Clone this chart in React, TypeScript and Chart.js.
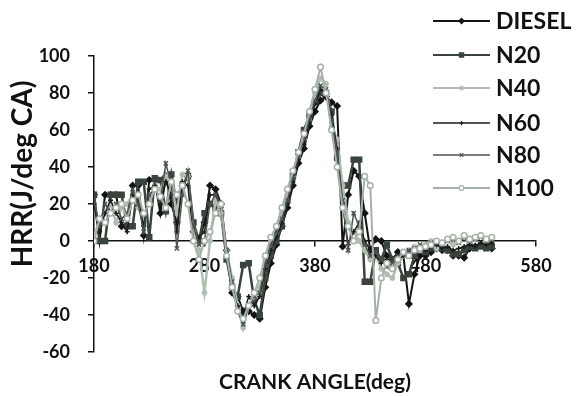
import React, { useEffect, useRef } from 'react';
import { Chart, registerables } from 'chart.js';
import { drawPoint } from 'chart.js/helpers';

Chart.register(...registerables);

// Crank angle (deg) sample positions shared by every series
const crankAngle = [
  180, 185, 190, 195, 200, 205, 210, 215, 220, 225,
  230, 235, 240, 245, 250, 255, 260, 265, 270, 275,
  280, 285, 290, 295, 300, 305, 310, 315, 320, 325,
  330, 335, 340, 345, 350, 355, 360, 365, 370, 375,
  380, 385, 390, 395, 400, 405, 410, 415, 420, 425,
  430, 435, 440, 445, 450, 455, 460, 465, 470, 475,
  480, 485, 490, 495, 500, 505, 510, 515, 520, 525,
  530, 535, 540,
];

// Heat release rate (J/deg CA) per fuel blend
const diesel = [
  25, 0, 25, 25, 25, 8, 8, 30, 30, 3,
  33, 33, 15, 35, 20, 10, 30, 35, 5, 0,
  10, 30, 28, 20, -5, -28, -30, -38, -38, -40,
  -42, -25, -12, -2, 8, 18, 30, 42, 50, 62,
  70, 76, 78, 75, 73, -3, 25, 38, 35, 15,
  -5, 1, 0, -8, -10, -6, -8, -34, -18, -8,
  -8, -6, -4, -5, -5, -8, -8, -9, -4, -3,
  -2, -3, -4,
];
const n20 = [
  25, 0, 0, 25, 25, 25, 8, 8, 32, 32,
  2, 34, 33, 16, 36, 20, 30, 35, 10, 0,
  15, 20, 18, 15, -10, -25, -30, -13, -12, -32,
  -40, -20, -8, 0, 8, 22, 35, 48, 60, 68,
  75, 80, 80, 70, 45, 30, 30, 44, 44, -22,
  -22, -5, -10, -2, -10, -12, -20, -18, -8, -5,
  -6, -4, -3, -4, -5, -7, -7, -5, -3, -4,
  -3, -4, -3,
];
const n40 = [
  2, 12, 15, 20, 10, 18, 20, 25, 18, 12,
  22, 30, 28, 35, 30, 15, 36, 35, 5, -5,
  -28, 0, 22, 15, -5, -20, -35, -47, -35, -30,
  -25, -10, 0, 5, 15, 25, 35, 45, 55, 65,
  80, 88, 85, 62, 55, 30, 10, 5, 0, -5,
  -10, -8, -15, -18, -20, -12, -8, -5, -3, -5,
  -2, 0, -4, -2, 1, -2, 0, 2, -1, 1,
  3, 0, 2,
];
const n60 = [
  20, 5, 15, 22, 15, 10, 5, 25, 22, 8,
  28, 30, 20, 32, 25, 5, 32, 30, 0, 2,
  5, 25, 25, 18, -8, -28, -35, -40, -30, -35,
  -30, -15, -5, 2, 10, 20, 32, 44, 52, 64,
  74, 82, 80, 68, 50, 20, -2, 5, 10, 0,
  -5, -8, -12, -10, -15, -10, -8, -6, -5, -4,
  -5, -3, -2, -4, -3, -5, -4, -3, -2, -3,
  -1, -2, -1,
];
const n80 = [
  22, 8, 20, 15, 20, 12, 15, 28, 20, 5,
  25, 28, 22, 42, 30, -4, 25, 38, 8, -2,
  0, 20, 25, 20, -5, -22, -38, -45, -35, -30,
  -28, -12, -2, 5, 12, 22, 34, 46, 56, 66,
  76, 84, 82, 65, 48, 22, -5, 15, 8, -2,
  -8, -6, -10, -14, -12, -8, -6, -5, -4, -2,
  -3, -1, 0, -2, 0, 1, -1, 2, 0, 1,
  2, 0, 1,
];
const n100 = [
  0, 12, 10, 15, 18, 20, 12, 22, 25, 15,
  20, 28, 24, 18, 32, 25, 30, 20, 0, -10,
  0, 5, 15, 20, -8, -25, -38, -42, -35, -28,
  -20, -8, 2, 8, 18, 28, 38, 48, 58, 70,
  82, 94, 80, 60, 40, 18, 8, 0, 5, 35,
  30, -43, -20, -12, -15, -10, -6, -8, -5, -4,
  -3, -2, 0, -1, 1, 2, 0, 3, 1, 2,
  3, 1, 2,
];

const seriesNames = ['DIESEL', 'N20', 'N40', 'N60', 'N80', 'N100'];
const seriesValues = [diesel, n20, n40, n60, n80, n100];

const xTitle = 'CRANK ANGLE(deg)';
const yTitle = 'HRR(J/deg CA)';

const FONT = 'Lato';
const INK = '#111111';

type Look = {
  color: string;
  width: number;
  pointStyle: string;
  radius: number;
  fill: string;
};

const looks: Look[] = [
  { color: '#141414', width: 2, pointStyle: 'rectRot', radius: 3, fill: '#141414' },
  { color: '#3a443c', width: 2.5, pointStyle: 'rect', radius: 3.5, fill: '#3a443c' },
  { color: '#b2bdb2', width: 2.5, pointStyle: 'star', radius: 3, fill: '#b2bdb2' },
  { color: '#1c1c1c', width: 1.5, pointStyle: 'cross', radius: 2.5, fill: '#1c1c1c' },
  { color: '#4c544d', width: 1.5, pointStyle: 'crossRot', radius: 3, fill: '#4c544d' },
  { color: '#a6b1a7', width: 2, pointStyle: 'circle', radius: 2.8, fill: '#ffffff' },
];

// Series key drawn inside the plot's upper-right corner
const sideLegend = {
  id: 'sideLegend',
  afterDraw(chart: any) {
    const ctx: CanvasRenderingContext2D = chart.ctx;
    const rowY = [21, 55, 88, 123, 155, 188];
    const x0 = 433;
    const x1 = 490;
    seriesNames.forEach((name, i) => {
      const lk = looks[i];
      const y = rowY[i];
      ctx.save();
      ctx.strokeStyle = lk.color;
      ctx.lineWidth = Math.min(lk.width, 2);
      ctx.beginPath();
      ctx.moveTo(x0, y);
      ctx.lineTo(x1, y);
      ctx.stroke();
      ctx.fillStyle = lk.fill;
      ctx.strokeStyle = lk.color;
      ctx.lineWidth = 1.2;
      drawPoint(ctx, { pointStyle: lk.pointStyle as any, radius: lk.radius * 0.85, rotation: 0, borderWidth: 1.2 }, (x0 + x1) / 2, y);
      ctx.fillStyle = INK;
      ctx.font = `bold 23px ${FONT}`;
      ctx.textAlign = 'left';
      ctx.textBaseline = 'middle';
      ctx.fillText(name, 496, y + 1);
      ctx.restore();
    });
  },
};

// Axis titles placed relative to the plotting area
const axisTitles = {
  id: 'axisTitles',
  afterDraw(chart: any) {
    const ctx: CanvasRenderingContext2D = chart.ctx;
    const area = chart.chartArea;
    ctx.save();
    ctx.fillStyle = INK;
    ctx.font = `bold 21px ${FONT}`;
    ctx.textAlign = 'center';
    ctx.textBaseline = 'middle';
    ctx.fillText(xTitle, (area.left + area.right) / 2, area.bottom + 30);
    ctx.translate(area.left - 71, area.top + 118);
    ctx.rotate(-Math.PI / 2);
    ctx.font = `bold 28px ${FONT}`;
    ctx.fillText(yTitle, 0, 0);
    ctx.restore();
  },
};

export default function App() {
  const canvasRef = useRef<HTMLCanvasElement | null>(null);

  useEffect(() => {
    const canvas = canvasRef.current;
    if (!canvas) return;

    const datasets = seriesNames.map((name, i) => {
      const lk = looks[i];
      return {
        label: name,
        data: crankAngle.map((x, j) => ({ x, y: seriesValues[i][j] })),
        borderColor: lk.color,
        borderWidth: lk.width,
        backgroundColor: lk.fill,
        pointStyle: lk.pointStyle as any,
        pointRadius: lk.radius,
        pointBackgroundColor: lk.fill,
        pointBorderColor: lk.color,
        pointBorderWidth: 1.5,
        tension: 0,
        fill: false,
        order: seriesNames.length - i,
      };
    });

    const chart = new Chart(canvas, {
      type: 'line',
      data: { datasets },
      plugins: [sideLegend, axisTitles],
      options: {
        animation: false,
        responsive: false,
        devicePixelRatio: 1,
        layout: { padding: { left: 0, top: 56, right: 41, bottom: 44 } },
        plugins: {
          legend: { display: false },
          tooltip: { enabled: false },
          title: { display: false },
        },
        scales: {
          x: {
            type: 'linear',
            position: { y: 0 } as any,
            min: 180,
            max: 580,
            ticks: {
              stepSize: 100,
              color: INK,
              padding: 9,
              font: { family: FONT, size: 18, weight: 'bold' },
            },
            grid: { drawOnChartArea: false, drawTicks: true, tickLength: 5, color: INK, lineWidth: 1.5 },
            border: { color: INK, width: 1.5 },
          },
          y: {
            min: -60,
            max: 100,
            ticks: {
              stepSize: 20,
              color: INK,
              padding: 18,
              font: { family: FONT, size: 18, weight: 'bold' },
            },
            grid: { drawOnChartArea: false, drawTicks: true, tickLength: 6, color: INK, lineWidth: 1.5 },
            border: { color: INK, width: 1.5 },
            afterFit: (scale: any) => {
              scale.width = 94;
            },
          },
        },
      },
    });

    return () => chart.destroy();
  }, []);

  return (
    <div style={{ position: 'absolute', left: 0, top: 0, width: 577, height: 396, background: '#ffffff' }}>
      <canvas ref={canvasRef} width={577} height={396} />
    </div>
  );
}
